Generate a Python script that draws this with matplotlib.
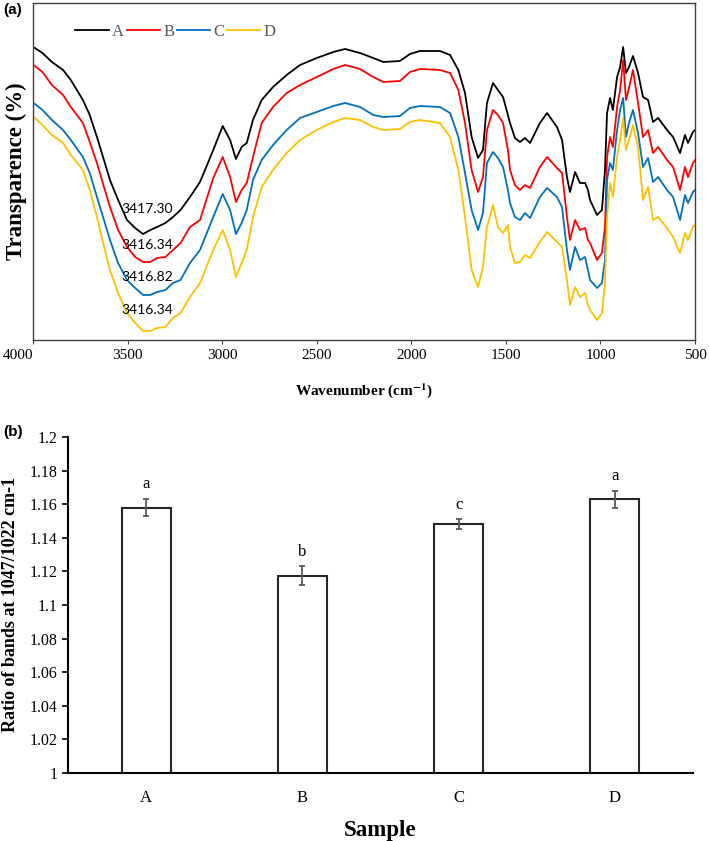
import numpy as np
import matplotlib
matplotlib.use("Agg")
import matplotlib.pyplot as plt

plt.rcParams['font.family'] = ['Liberation Serif', 'DejaVu Serif']
plt.rcParams['mathtext.fontset'] = 'stix'

# (a) FTIR spectra (depth below the frame top, arbitrary units)
wavenumber = [4000, 3990, 3950, 3900, 3841, 3800, 3736, 3700, 3662, 3620, 3593, 3550,
              3503, 3460, 3418, 3380, 3344, 3300, 3260, 3220, 3170, 3117, 3047, 2997,
              2958, 2927, 2897, 2870, 2837, 2791, 2731, 2659, 2588, 2500, 2412, 2350,
              2271, 2201, 2148, 2060, 2007, 1954, 1848, 1795, 1751, 1716, 1681, 1647,
              1621, 1600, 1568, 1542, 1515, 1489, 1478, 1452, 1425, 1399, 1372, 1320,
              1282, 1230, 1203, 1177, 1161, 1134, 1108, 1081, 1066, 1055, 1018, 992,
              976, 965, 949, 934, 912, 896, 880, 865, 849, 828, 801, 775,
              748, 722, 695, 648, 616, 579, 553, 537, 511, 500]
spec_A = [47, 48, 53, 62, 70, 80, 100, 115, 137, 163, 180, 200,
          220, 228, 234, 230, 227, 223, 217, 210, 197, 182, 150, 126,
          140, 159, 147, 143, 120, 100, 87, 75, 65, 58, 52, 49,
          53, 58, 62, 61, 54, 51, 51, 55, 70, 93, 137, 158,
          150, 103, 83, 90, 97, 115, 123, 138, 142, 138, 143, 123,
          113, 127, 140, 177, 192, 172, 183, 183, 190, 200, 215, 210,
          170, 113, 98, 110, 77, 67, 47, 73, 67, 56, 73, 97,
          100, 122, 118, 130, 137, 153, 135, 143, 132, 130]
spec_B = [65, 66, 72, 85, 95, 107, 123, 142, 163, 190, 207, 230,
          247, 257, 262, 262, 258, 257, 250, 243, 227, 220, 178, 157,
          177, 202, 190, 183, 157, 123, 107, 93, 85, 77, 69, 65,
          69, 77, 82, 81, 72, 69, 70, 73, 90, 123, 170, 192,
          177, 130, 110, 115, 123, 150, 170, 185, 190, 185, 188, 167,
          157, 168, 173, 217, 240, 220, 230, 228, 240, 243, 260, 253,
          227, 157, 137, 147, 107, 90, 60, 100, 88, 70, 103, 137,
          130, 153, 147, 160, 167, 190, 167, 177, 163, 160]
spec_C = [103, 104, 110, 120, 130, 140, 157, 173, 197, 223, 240, 263,
          280, 288, 295, 295, 292, 290, 283, 280, 263, 250, 217, 194,
          210, 234, 223, 210, 180, 160, 145, 130, 118, 112, 106, 103,
          107, 115, 117, 116, 108, 106, 107, 113, 137, 173, 210, 230,
          213, 163, 152, 158, 167, 190, 203, 217, 220, 213, 218, 197,
          188, 197, 207, 250, 270, 247, 260, 257, 270, 280, 288, 283,
          260, 180, 163, 170, 130, 110, 98, 137, 123, 110, 133, 167,
          158, 182, 177, 190, 197, 220, 195, 203, 192, 190]
spec_D = [117, 118, 125, 135, 143, 155, 170, 190, 217, 250, 270, 293,
          313, 323, 331, 331, 328, 327, 318, 313, 297, 283, 250, 230,
          250, 277, 263, 250, 217, 187, 170, 153, 140, 130, 122, 118,
          120, 127, 130, 129, 122, 120, 123, 137, 170, 217, 270, 287,
          267, 227, 205, 227, 233, 225, 247, 263, 262, 255, 258, 242,
          232, 242, 247, 280, 305, 287, 297, 293, 305, 310, 320, 313,
          283, 217, 183, 197, 157, 140, 118, 150, 140, 125, 147, 200,
          187, 220, 217, 228, 237, 253, 233, 240, 227, 225]
series_names = ['A', 'B', 'C', 'D']
series_colors = ['#000000', '#FF0000', '#0070C0', '#FFC000']
peak_labels = ['3417.30', '3416.34', '3416.82', '3416.34']
peak_label_depth = [209, 245, 277, 310]

# (b) band ratio
samples = ['A', 'B', 'C', 'D']
ratio = [1.158, 1.1175, 1.148, 1.163]
ratio_err = [0.005, 0.0055, 0.003, 0.005]
letters = ['a', 'b', 'c', 'a']

fig = plt.figure(figsize=(7.09, 8.41), dpi=100)

# ---- panel (a)
ax1 = fig.add_axes([33/709, 1-340/841, 662/709, 337/841])
for name, col, ys in zip(series_names, series_colors, [spec_A, spec_B, spec_C, spec_D]):
    ax1.plot(wavenumber, ys, color=col, lw=1.3, label=name)
ax1.set_xlim(4000, 500)
ax1.set_ylim(340, 3)
ax1.set_xticks(np.arange(4000, 499, -500))
ax1.set_yticks([])
ax1.tick_params(axis='x', labelsize=11, length=3, color='#404040')
ax1.get_xticklabels()[0].set_ha('right')
for s in ax1.spines.values():
    s.set_color('#404040')
    s.set_linewidth(1.0)
for lab, d in zip(peak_labels, peak_label_depth):
    ax1.text(3395, d, lab, ha='center', va='center', fontsize=10,
             family=['Lato', 'DejaVu Sans'])
ax1.set_xlabel(r'Wavenumber (cm$^{\mathbf{-1}}$)', fontsize=11, fontweight='bold', labelpad=14)
ax1.set_ylabel('Transparence (%)', fontsize=16.5, fontweight='bold', labelpad=4)
leg = ax1.legend(loc='center left', bbox_to_anchor=(0.064, 0.914), ncol=4, frameon=False,
                 fontsize=12, handlelength=2.0, handletextpad=0.2, columnspacing=0.15,
                 borderaxespad=0, borderpad=0)
for t in leg.get_texts():
    t.set_color('#595959')
fig.text(3/709, 1-10/841, '(a)', fontsize=11, fontweight='bold', family='Liberation Sans',
         ha='left', va='center')

# ---- panel (b)
ax2 = fig.add_axes([68/709, 1-773/841, 625/709, 336/841])
xpos = np.arange(len(samples))
ax2.bar(xpos, ratio, width=0.314, bottom=0, color='white', edgecolor='#262626', linewidth=1.5)
ax2.errorbar(xpos, ratio, yerr=ratio_err, fmt='none', ecolor='#595959', elinewidth=1.3,
             capsize=2.5, capthick=1.3)
for x, v, e, l in zip(xpos, ratio, ratio_err, letters):
    ax2.text(x, v + e + 0.004, l, ha='center', va='bottom', fontsize=12)
ax2.set_xlim(-0.5, 3.5)
ax2.set_ylim(1.0, 1.2)
yt = np.round(np.arange(1.0, 1.2001, 0.02), 2)
ax2.set_yticks(yt)
ax2.set_yticklabels([f'{v:g}' for v in yt])
ax2.set_xticks(xpos)
ax2.set_xticklabels(samples)
ax2.tick_params(axis='x', length=0, labelsize=12, pad=12)
ax2.tick_params(axis='y', length=4, labelsize=11.5, width=1.2)
ax2.spines['top'].set_visible(False)
ax2.spines['right'].set_visible(False)
ax2.spines['left'].set_linewidth(1.5)
ax2.spines['bottom'].set_linewidth(1.5)
ax2.set_ylabel('Ratio of bands at 1047/1022 cm-1', fontsize=13, fontweight='bold', labelpad=8)
ax2.set_xlabel('Sample', fontsize=16.5, fontweight='bold', labelpad=10)
fig.text(3/709, 1-432/841, '(b)', fontsize=11, fontweight='bold', family='Liberation Sans',
         ha='left', va='center')

fig.savefig('out.png', dpi=100)
